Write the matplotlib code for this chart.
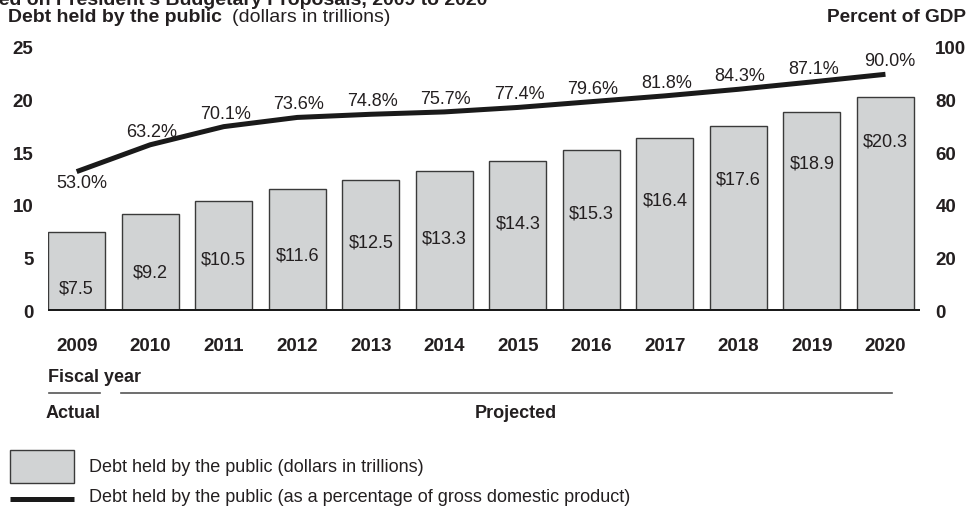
import matplotlib.pyplot as plt
from matplotlib.lines import Line2D
from matplotlib.patches import Rectangle

plt.rcParams['font.family'] = ['Liberation Sans', 'DejaVu Sans']
TEXT = "#231f20"

# Data
years = ["2009", "2010", "2011", "2012", "2013", "2014",
         "2015", "2016", "2017", "2018", "2019", "2020"]
debt_dollars = [7.5, 9.2, 10.5, 11.6, 12.5, 13.3, 14.3, 15.3, 16.4, 17.6, 18.9, 20.3]
debt_pct_gdp = [53.0, 63.2, 70.1, 73.6, 74.8, 75.7, 77.4, 79.6, 81.8, 84.3, 87.1, 90.0]

left_ticks = [0, 5, 10, 15, 20, 25]
right_ticks = [0, 20, 40, 60, 80, 100]

# how far below the bar top the dollar label sits (points)
dollar_label_drop = [41, 42, 43, 48, 46, 49, 46, 46, 45, 39, 37, 32]

fig = plt.figure(figsize=(9.8, 5.08), dpi=100)
ax = fig.add_axes([48 / 980, 1 - 311 / 508, 872 / 980, 263 / 508])
ax2 = ax.twinx()

x = list(range(len(years)))
ax.bar(x, debt_dollars, width=0.775, color="#d1d3d4", edgecolor="#3a3a3a",
       linewidth=1.0, zorder=2)
ax.axhline(0, color="#1a1a1a", linewidth=3.6, zorder=3)

for xi, v, drop in zip(x, debt_dollars, dollar_label_drop):
    ax.annotate(f"${v:.1f}", (xi, v), xytext=(0, -drop), textcoords="offset points",
                ha="center", va="center", fontsize=13, color=TEXT)

ax2.plot(x, debt_pct_gdp, color="#1a1a1a", linewidth=3.6, solid_capstyle="butt", zorder=4)
for i, (xi, p) in enumerate(zip(x, debt_pct_gdp)):
    if i == 0:
        off = (4, -8.5)
    elif i == len(x) - 1:
        off = (3, 9)
    else:
        off = (1, 9)
    ax2.annotate(f"{p:.1f}%", (xi, p), xytext=off, textcoords="offset points",
                 ha="center", va="center", fontsize=13, color=TEXT)

ax.set_xlim(-0.39, 11.47)
ax.set_ylim(0, 25)
ax2.set_ylim(0, 100)

ax.set_xticks(x)
ax.set_xticklabels(years, fontweight="bold", fontsize=13.5, color=TEXT)
ax.set_yticks(left_ticks)
ax.set_yticklabels([str(t) for t in left_ticks], fontweight="bold", fontsize=13.5, color=TEXT)
ax2.set_yticks(right_ticks)
ax2.set_yticklabels([str(t) for t in right_ticks], fontweight="bold", fontsize=13.5, color=TEXT)
ax.tick_params(axis="x", length=0, pad=19.5)
ax.tick_params(axis="y", length=0, pad=10.5)
ax2.tick_params(axis="y", length=0, pad=11)
for a in (ax, ax2):
    for s in a.spines.values():
        s.set_visible(False)

# titles (the top line is cut off in the original)
fig.text(487 / 980, 1 - 5 / 508, "Based on President's Budgetary Proposals, 2009 to 2020",
         ha="right", va="baseline", fontsize=14, fontweight="bold", color=TEXT)
fig.text(8 / 980, 1 - 17 / 508, "Debt held by the public", ha="left", va="center",
         fontsize=14, fontweight="bold", color=TEXT)
fig.text(232 / 980, 1 - 17 / 508, "(dollars in trillions)", ha="left", va="center",
         fontsize=14, color=TEXT)
fig.text(966 / 980, 1 - 17 / 508, "Percent of GDP", ha="right", va="center",
         fontsize=13.7, fontweight="bold", color=TEXT)

# fiscal year / actual / projected
fig.text(48 / 980, 1 - 378 / 508, "Fiscal year", ha="left", va="center",
         fontsize=13, fontweight="bold", color=TEXT)
fig.add_artist(Line2D([49 / 980, 100 / 980], [1 - 393 / 508] * 2, color="#555555", lw=1.2))
fig.add_artist(Line2D([121 / 980, 892 / 980], [1 - 393 / 508] * 2, color="#555555", lw=1.2))
fig.text(46 / 980, 1 - 413 / 508, "Actual", ha="left", va="center",
         fontsize=13, fontweight="bold", color=TEXT)
fig.text(516 / 980, 1 - 413 / 508, "Projected", ha="center", va="center",
         fontsize=13, fontweight="bold", color=TEXT)

# legend
fig.add_artist(Rectangle((10 / 980, 1 - 483 / 508), 64 / 980, 33 / 508,
                         facecolor="#d1d3d4", edgecolor="#3a3a3a", lw=1.0,
                         transform=fig.transFigure))
fig.text(89 / 980, 1 - 467 / 508, "Debt held by the public (dollars in trillions)",
         ha="left", va="center", fontsize=13, color=TEXT)
fig.add_artist(Line2D([10 / 980, 74 / 980], [1 - 499 / 508] * 2, color="#1a1a1a",
                      lw=3.6, solid_capstyle="butt"))
fig.text(89 / 980, 1 - 497 / 508,
         "Debt held by the public (as a percentage of gross domestic product)",
         ha="left", va="center", fontsize=13, color=TEXT)

fig.savefig("out.png", dpi=100)
